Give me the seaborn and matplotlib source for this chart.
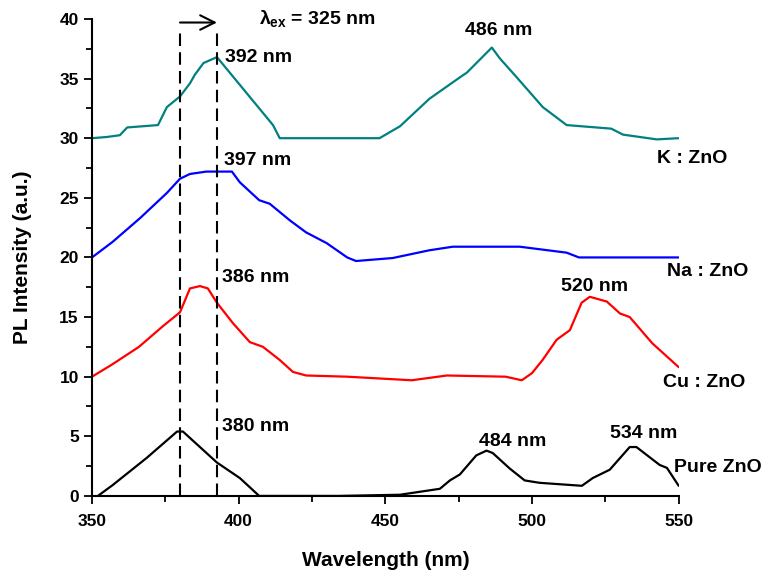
import matplotlib
matplotlib.use("Agg")
import matplotlib.pyplot as plt
import seaborn as sns
import pandas as pd
from matplotlib.ticker import MultipleLocator

sns.set_style("ticks")
plt.rcParams['font.family'] = ['Liberation Sans', 'DejaVu Sans']
plt.rcParams['font.weight'] = 'bold'
plt.rcParams['text.color'] = 'black'
plt.rcParams['axes.labelcolor'] = 'black'
plt.rcParams['xtick.color'] = 'black'
plt.rcParams['ytick.color'] = 'black'
plt.rcParams['mathtext.fontset'] = 'custom'
plt.rcParams['mathtext.rm'] = 'Liberation Sans:bold'
plt.rcParams['mathtext.it'] = 'Liberation Sans:bold'
plt.rcParams['mathtext.bf'] = 'Liberation Sans:bold'

# PL spectra (wavelength in nm, intensity in a.u., already offset)
k_x = [350, 355, 359.5, 362, 372.5, 375.5, 380, 383.4, 385, 388, 392.6, 411.7, 414,
       448, 455, 465, 475.4, 477.8, 486.3, 489, 494.8, 503.7, 511.8, 527, 531, 542.5, 550]
k_y = [30.0, 30.1, 30.25, 30.9, 31.1, 32.6, 33.5, 34.6, 35.3, 36.3, 36.8, 31.1, 30.0,
       30.0, 31.0, 33.3, 35.1, 35.5, 37.6, 36.7, 35.1, 32.6, 31.1, 30.8, 30.3, 29.9, 30.0]

na_x = [350, 357, 366.4, 375.5, 380, 383.4, 389, 397.7, 400.4, 407, 410.6, 417.5, 423,
        430, 437, 440, 452.5, 465, 473, 495.8, 511.8, 516, 550]
na_y = [20.0, 21.3, 23.3, 25.4, 26.6, 27.0, 27.2, 27.2, 26.3, 24.8, 24.5, 23.1, 22.1,
        21.2, 20.0, 19.7, 19.95, 20.6, 20.9, 20.9, 20.4, 20.0, 20.0]

cu_x = [350, 356.7, 366, 374, 380, 383.4, 386.8, 389.5, 392.6, 398, 403.8, 408.3, 414,
        418.5, 423, 437, 459, 465, 471, 491, 496.5, 500, 503.6, 508.4, 512.9, 516.9,
        519.7, 525.5, 530, 533.3, 541, 550]
cu_y = [10.0, 11.0, 12.5, 14.2, 15.4, 17.4, 17.6, 17.4, 16.2, 14.5, 12.9, 12.5, 11.4,
        10.4, 10.1, 10.0, 9.7, 9.9, 10.1, 10.0, 9.7, 10.3, 11.4, 13.1, 13.9, 16.2,
        16.7, 16.3, 15.3, 15.0, 12.8, 10.8]

pure_x = [352, 357, 368.7, 379, 381, 392.6, 400.4, 407, 434, 455, 468.6, 472, 475.4,
          481, 484.5, 486.6, 492.4, 497.5, 502.6, 517, 520.7, 526.5, 533.3, 535.6,
          543.5, 546, 548, 550]
pure_y = [0, 0.9, 3.2, 5.4, 5.4, 2.8, 1.5, 0, 0, 0.1, 0.6, 1.3, 1.8,
          3.4, 3.8, 3.6, 2.3, 1.3, 1.1, 0.85, 1.5, 2.2, 4.1, 4.1,
          2.6, 2.35, 1.6, 0.85]

series = [("K : ZnO", k_x, k_y, "#008080"),
          ("Na : ZnO", na_x, na_y, "#0000ff"),
          ("Cu : ZnO", cu_x, cu_y, "#ff0000"),
          ("Pure ZnO", pure_x, pure_y, "black")]

excitation_lines = [380, 392.6]
excitation_top = 39.2

labels = ["392 nm", "486 nm", "K : ZnO", "397 nm", "Na : ZnO", "386 nm", "520 nm",
          "Cu : ZnO", "380 nm", "484 nm", "534 nm", "Pure ZnO"]
label_pos = [(395.3, 36.8), (477, 39.0), (542.5, 28.3), (395, 28.1), (546, 18.8),
             (394.3, 18.3), (510, 17.6), (544.5, 9.5), (394.3, 5.8), (481.9, 4.6),
             (526.5, 5.2), (548.3, 2.4)]

fig = plt.figure(figsize=(7.73, 5.74), dpi=100)
ax = fig.add_axes([0.119, 0.136, 0.759, 0.831])

for name, xs, ys, col in series:
    df = pd.DataFrame({"wl": xs, "pl": ys})
    sns.lineplot(data=df, x="wl", y="pl", ax=ax, color=col, linewidth=1.6,
                 sort=False, estimator=None)

for xv in excitation_lines:
    ax.plot([xv, xv], [0, excitation_top], color="black", linestyle=(0, (6, 3)),
            linewidth=1.5, clip_on=False)
ax.annotate("", xy=(excitation_lines[1], 39.7), xytext=(excitation_lines[0], 39.7),
            arrowprops=dict(arrowstyle="->", color="black", lw=1.5,
                            mutation_scale=26, shrinkA=0, shrinkB=0),
            annotation_clip=False)
ax.text(407, 40.0, r"$\lambda_{ex}$ = 325 nm", fontsize=14, fontweight="bold",
        va="center", ha="left", clip_on=False)

for txt, (tx, ty) in zip(labels, label_pos):
    ax.text(tx, ty, txt, fontsize=14, fontweight="bold", va="center", ha="left",
            clip_on=False)

ax.set_xlim(350, 550)
ax.set_ylim(0, 40)
ax.xaxis.set_major_locator(MultipleLocator(50))
ax.xaxis.set_minor_locator(MultipleLocator(25))
ax.yaxis.set_major_locator(MultipleLocator(5))
ax.yaxis.set_minor_locator(MultipleLocator(2.5))
ax.tick_params(axis="both", which="major", direction="out", length=6, width=1.3,
               labelsize=12.5, colors="black")
ax.tick_params(axis="x", which="major", pad=7)
ax.tick_params(axis="both", which="minor", direction="out", length=4, width=1.3,
               colors="black")
for lab in ax.get_xticklabels() + ax.get_yticklabels():
    lab.set_fontweight("bold")

ax.set_xlabel("Wavelength (nm)", fontsize=15, fontweight="bold", labelpad=16)
ax.set_ylabel("PL Intensity (a.u.)", fontsize=15, fontweight="bold", labelpad=20)

sns.despine(ax=ax)
for s in ("left", "bottom"):
    ax.spines[s].set_linewidth(1.5)
    ax.spines[s].set_color("black")

fig.savefig("out.png", dpi=100)
